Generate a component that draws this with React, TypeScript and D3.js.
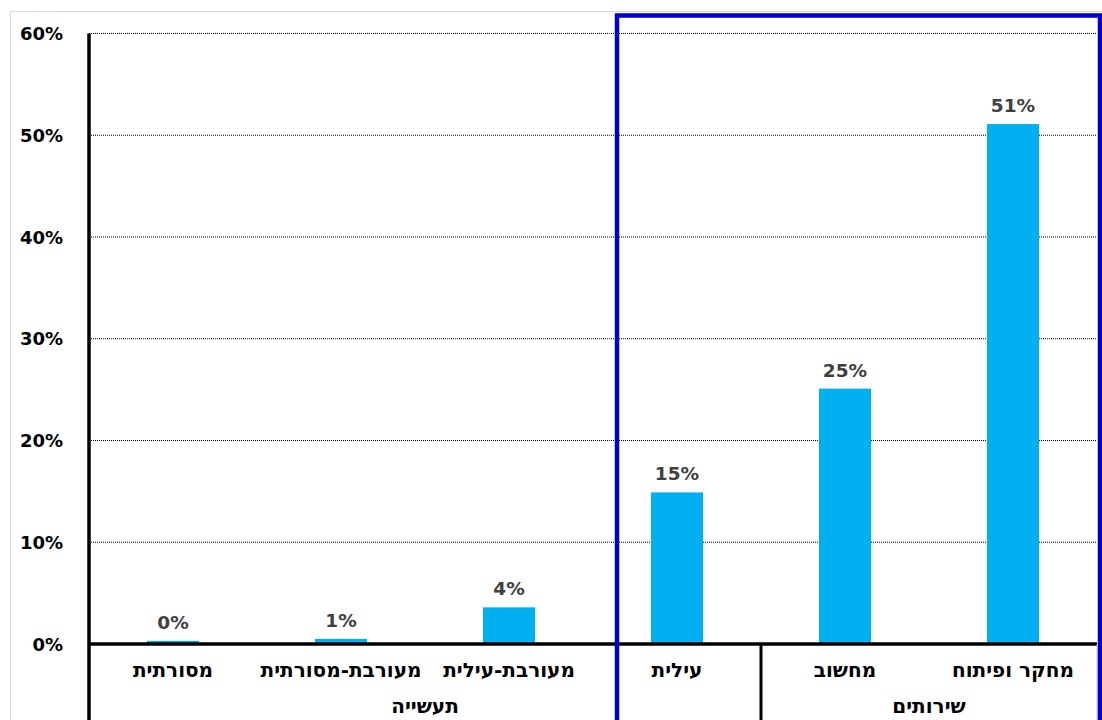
import React from "react";
import * as d3 from "d3";

const categories = ["מסורתית", "מעורבת-מסורתית", "מעורבת-עילית", "עילית", "מחשוב", "מחקר ופיתוח"];
const values = [0.3, 0.5, 3.6, 14.9, 25.1, 51.1];
const valueLabels = ["0%", "1%", "4%", "15%", "25%", "51%"];
const groups = ["תעשייה", "שירותים"];
const groupStart = [0, 4];
const groupEnd = [3, 5];
const yTicks = [0, 10, 20, 30, 40, 50, 60];

const W = 1102;
const H = 720;
const left = 89;
const right = 1097;
const top = 33.5;
const bottom = 644;

export default function App() {
  const x = d3
    .scaleBand<number>()
    .domain(categories.map((_, i) => i))
    .range([left, right])
    .paddingInner(0.69)
    .paddingOuter(0.345);
  const step = x.step();
  const y = d3.scaleLinear().domain([0, 60]).range([bottom, top]);
  const font = "'DejaVu Sans', Verdana, sans-serif";
  const bandStart = (i: number) => left + i * step;

  return (
    <svg
      width={W}
      height={H}
      style={{ position: "absolute", left: 0, top: 0, background: "#fff" }}
      fontFamily={font}
    >
      <rect x={10.5} y={11.5} width={1100} height={720} fill="#fff" stroke="#d9d9d9" strokeWidth={1} />
      {yTicks.slice(1).map((t) => (
        <line
          key={t}
          x1={left}
          x2={right}
          y1={y(t)}
          y2={y(t)}
          stroke="#000"
          strokeWidth={1}
          strokeDasharray="1,1"
        />
      ))}
      {yTicks.map((t) => (
        <text
          key={t}
          x={63}
          y={y(t) + 6.5}
          textAnchor="end"
          fontSize={18}
          fontWeight="bold"
          fill="#000"
        >
          {t}%
        </text>
      ))}
      {values.map((v, i) => (
        <rect key={i} x={x(i)} y={y(v)} width={x.bandwidth()} height={y(0) - y(v)} fill="#00B0F0" />
      ))}
      {values.map((v, i) => (
        <text
          key={i}
          x={(x(i) as number) + x.bandwidth() / 2}
          y={y(v) - 12}
          textAnchor="middle"
          fontSize={18.5}
          fontWeight="bold"
          fill="#404040"
        >
          {valueLabels[i]}
        </text>
      ))}
      <line x1={left} x2={right} y1={bottom} y2={bottom} stroke="#000" strokeWidth={3.5} />
      <line x1={left} x2={left} y1={top} y2={H} stroke="#000" strokeWidth={3.5} />
      {groups.map((g, gi) => (
        <line
          key={"sep" + gi}
          x1={bandStart(groupEnd[gi] + 1)}
          x2={bandStart(groupEnd[gi] + 1)}
          y1={bottom}
          y2={H}
          stroke={gi === groups.length - 1 ? "#bfbfbf" : "#000"}
          strokeWidth={gi === groups.length - 1 ? 1 : 3}
        />
      ))}
      {categories.map((c, i) => (
        <text
          key={c}
          x={bandStart(i) + step / 2}
          y={677}
          textAnchor="middle"
          fontSize={20}
          fontWeight="bold"
          fill="#000"
          direction="rtl"
          style={{ unicodeBidi: "plaintext" } as any}
        >
          {c}
        </text>
      ))}
      {groups.map((g, gi) => (
        <text
          key={g}
          x={(bandStart(groupStart[gi]) + bandStart(groupEnd[gi] + 1)) / 2}
          y={713}
          textAnchor="middle"
          fontSize={20}
          fontWeight="bold"
          fill="#000"
        >
          {g}
        </text>
      ))}
      <rect x={617} y={15.5} width={483} height={720} fill="none" stroke="#0000CC" strokeWidth={4.5} />
    </svg>
  );
}
